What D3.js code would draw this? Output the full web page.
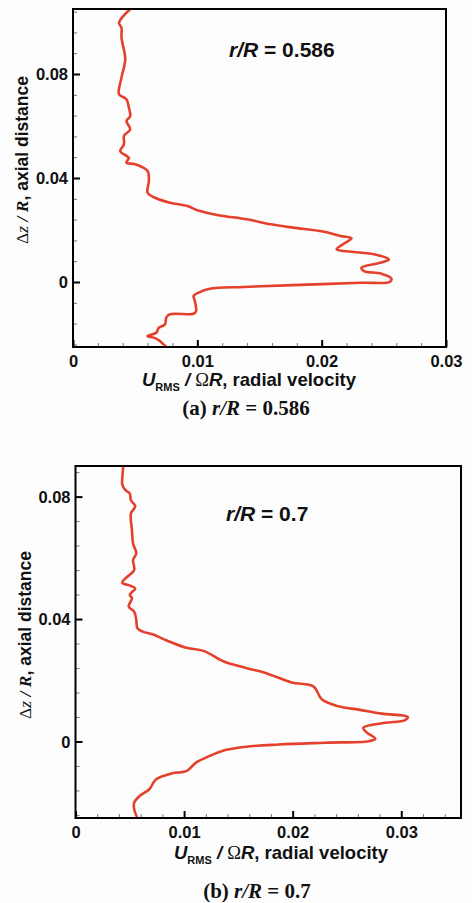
<!DOCTYPE html>
<html>
<head>
<meta charset="utf-8">
<script src="https://cdn.jsdelivr.net/npm/d3@7"></script>
<style>
  body { margin: 0; background: #fdfdfe; }
  svg { display: block; }
</style>
</head>
<body>
<div id="chart"></div>
<script>
// panel (a) r/R = 0.586 : radial velocity vs axial distance
const u_a = [0.0046, 0.0037, 0.0039, 0.0039, 0.0042, 0.0039, 0.0037, 0.0043, 0.0045, 0.0046,
             0.0043, 0.0046, 0.0041, 0.0041, 0.0038, 0.0043, 0.0045, 0.0043, 0.0050, 0.0060,
             0.0061, 0.0060, 0.0066, 0.0078, 0.0092, 0.0100, 0.0116, 0.0140, 0.0159, 0.0177,
             0.0201, 0.0215, 0.0224, 0.0219, 0.0212, 0.0218, 0.0242, 0.0254, 0.0247, 0.0232,
             0.0234, 0.0248, 0.0256, 0.0255, 0.0231, 0.0177, 0.0137, 0.0110, 0.0101, 0.0097,
             0.0098, 0.0099, 0.0097, 0.0078, 0.0075, 0.0074, 0.0069, 0.0067, 0.0060, 0.0065,
             0.0069, 0.0075];
const z_a = [0.1050, 0.0997, 0.0978, 0.0940, 0.0857, 0.0786, 0.0722, 0.0703, 0.0670, 0.0638,
             0.0619, 0.0587, 0.0562, 0.0530, 0.0504, 0.0485, 0.0478, 0.0459, 0.0453, 0.0427,
             0.0388, 0.0343, 0.0324, 0.0305, 0.0292, 0.0276, 0.0258, 0.0241, 0.0222, 0.0209,
             0.0194, 0.0177, 0.0168, 0.0151, 0.0126, 0.0119, 0.0107, 0.0087, 0.0074, 0.0055,
             0.0042, 0.0032, 0.0014, 0.0001, -0.0003, -0.0012, -0.0019, -0.0026, -0.0041, -0.0054,
             -0.0073, -0.0112, -0.0122, -0.0124, -0.0137, -0.0163, -0.0176, -0.0195, -0.0208, -0.0214,
             -0.0224, -0.0250];

// panel (b) r/R = 0.7
const u_b = [0.0044, 0.0043, 0.0043, 0.0046, 0.0050, 0.0051, 0.0055, 0.0051, 0.0052, 0.0053,
             0.0056, 0.0053, 0.0054, 0.0046, 0.0043, 0.0051, 0.0055, 0.0050, 0.0052, 0.0049,
             0.0054, 0.0056, 0.0057, 0.0062, 0.0071, 0.0084, 0.0101, 0.0118, 0.0136, 0.0157,
             0.0175, 0.0199, 0.0219, 0.0227, 0.0242, 0.0261, 0.0282, 0.0306, 0.0303, 0.0285,
             0.0265, 0.0268, 0.0276, 0.0270, 0.0230, 0.0187, 0.0157, 0.0138, 0.0123, 0.0111,
             0.0102, 0.0089, 0.0074, 0.0068, 0.0059, 0.0054, 0.0054, 0.0057];
const z_b = [0.0900, 0.0853, 0.0840, 0.0821, 0.0810, 0.0788, 0.0769, 0.0745, 0.0690, 0.0647,
             0.0615, 0.0593, 0.0560, 0.0533, 0.0519, 0.0508, 0.0500, 0.0479, 0.0468, 0.0441,
             0.0424, 0.0397, 0.0370, 0.0359, 0.0350, 0.0330, 0.0307, 0.0296, 0.0262, 0.0240,
             0.0224, 0.0193, 0.0180, 0.0137, 0.0115, 0.0104, 0.0091, 0.0080, 0.0069, 0.0061,
             0.0045, 0.0030, 0.0009, 0.0001, -0.0004, -0.0010, -0.0017, -0.0028, -0.0048, -0.0069,
             -0.0097, -0.0104, -0.0124, -0.0156, -0.0178, -0.0200, -0.0221, -0.0250];

// tick values
const xTicksMajor = [0, 0.01, 0.02, 0.03];
const yTicksMajor = [0, 0.04, 0.08];
const xTickLabels = ['0', '0.01', '0.02', '0.03'];
const yTickLabels = ['0', '0.04', '0.08'];

const captions = ['(a)', '(b)'];
const radii = ['0.586', '0.7'];

const W = 472, H = 903;
const sans = 'Liberation Sans, Arial, sans-serif';
const serif = 'Liberation Serif, Times New Roman, serif';

const svg = d3.select('#chart').append('svg')
    .attr('width', W)
    .attr('height', H);

svg.append('rect').attr('width', W).attr('height', H).attr('fill', '#fdfdfe');

function drawPanel(o) {
    const x = d3.scaleLinear().domain(o.xDomain).range([o.left, o.right]);
    const y = d3.scaleLinear().domain(o.yDomain).range([o.bottom, o.top]);
    const g = svg.append('g');

    // minor ticks every 0.002 on x, 0.008 on y
    const xMinor = d3.range(0, o.xDomain[1] + 1e-9, 0.002).filter(v => Math.abs(v * 100 - Math.round(v * 100)) > 1e-6);
    const yMinor = d3.range(-0.024, o.yDomain[1] + 1e-9, 0.008).filter(v => Math.abs(v * 25 - Math.round(v * 25)) > 1e-6);

    const minorX = g.append('g')
        .attr('transform', `translate(0,${o.bottom})`)
        .call(d3.axisBottom(x).tickValues(xMinor).tickSizeInner(-4).tickSizeOuter(0).tickFormat(''));
    const minorY = g.append('g')
        .attr('transform', `translate(${o.left},0)`)
        .call(d3.axisLeft(y).tickValues(yMinor).tickSizeInner(-4).tickSizeOuter(0).tickFormat(''));
    [minorX, minorY].forEach(a => {
        a.select('.domain').remove();
        a.selectAll('line').attr('stroke', '#6a7a88').attr('stroke-width', 1);
    });

    const xAxis = g.append('g')
        .attr('transform', `translate(0,${o.bottom})`)
        .call(d3.axisBottom(x).tickValues(xTicksMajor).tickSizeInner(-7).tickSizeOuter(0)
            .tickPadding(20).tickFormat((d, i) => xTickLabels[i]));
    const yAxis = g.append('g')
        .attr('transform', `translate(${o.left},0)`)
        .call(d3.axisLeft(y).tickValues(yTicksMajor).tickSizeInner(-7).tickSizeOuter(0)
            .tickPadding(5).tickFormat((d, i) => yTickLabels[i]));
    [xAxis, yAxis].forEach(a => {
        a.select('.domain').remove();
        a.selectAll('line').attr('stroke', '#000').attr('stroke-width', 2);
        a.selectAll('text')
            .attr('fill', '#111')
            .style('font-family', sans)
            .style('font-weight', 'bold')
            .style('font-size', '16.5px');
    });
    xAxis.selectAll('text').attr('dy', '0');
    yAxis.selectAll('text').attr('dy', '0.36em');

    // the profile
    const pts = o.u.map((d, i) => [d, o.z[i]]);
    g.append('path')
        .datum(pts)
        .attr('fill', 'none')
        .attr('stroke', '#e5402c')
        .attr('stroke-width', 2.6)
        .attr('stroke-linejoin', 'round')
        .attr('d', d3.line().x(d => x(d[0])).y(d => y(d[1])).curve(d3.curveCatmullRom.alpha(0.5)));

    // frame
    g.append('rect')
        .attr('x', o.left).attr('y', o.top)
        .attr('width', o.right - o.left).attr('height', o.bottom - o.top)
        .attr('fill', 'none').attr('stroke', '#000').attr('stroke-width', 2);

    // r/R label inside the box
    const ann = g.append('text')
        .attr('x', o.annX).attr('y', o.annY)
        .style('font-family', sans)
        .style('font-weight', 'bold')
        .style('font-size', '21px')
        .attr('fill', '#111');
    ann.append('tspan').style('font-style', 'italic').text('r/R');
    ann.append('tspan').text(' = ' + o.radius);

    // x title
    const xt = g.append('text')
        .attr('x', o.xTitleX).attr('y', o.xTitleY)
        .attr('text-anchor', 'middle')
        .style('font-family', sans)
        .style('font-weight', 'bold')
        .style('font-size', '18.5px')
        .attr('fill', '#111');
    xt.append('tspan').style('font-style', 'italic').text('U');
    xt.append('tspan').attr('dy', 5).style('font-size', '11px').text('RMS');
    xt.append('tspan').attr('dy', -5).style('font-style', 'italic').text(' / ');
    xt.append('tspan').style('font-family', serif).style('font-weight', 'normal').text('Ω');
    xt.append('tspan').style('font-style', 'italic').text('R');
    xt.append('tspan').text(', radial velocity');

    // y title
    const yt = g.append('text')
        .attr('transform', `translate(${o.yTitleX},${o.yTitleY}) rotate(-90)`)
        .attr('text-anchor', 'middle')
        .style('font-family', sans)
        .style('font-weight', 'bold')
        .style('font-size', '17.5px')
        .attr('fill', '#111');
    yt.append('tspan').style('font-family', serif).style('font-weight', 'normal').text('Δ');
    yt.append('tspan').style('font-family', serif).style('font-weight', 'normal').style('font-style', 'italic').text('z');
    yt.append('tspan').style('font-family', serif).style('font-style', 'italic').text(' / R');
    yt.append('tspan').text(', axial distance');

    // caption under the panel
    const cap = g.append('text')
        .attr('x', o.capX).attr('y', o.capY)
        .attr('text-anchor', 'middle')
        .style('font-family', serif)
        .style('font-weight', 'bold')
        .style('font-size', '21px')
        .attr('fill', '#111');
    cap.append('tspan').text(o.caption + ' ');
    cap.append('tspan').style('font-style', 'italic').text('r/R');
    cap.append('tspan').text(' = ' + o.radius);
}

drawPanel({
    u: u_a, z: z_a,
    xDomain: [0, 0.03], yDomain: [-0.025, 0.105],
    left: 73, right: 446, top: 9, bottom: 347,
    annX: 229, annY: 57, radius: radii[0],
    xTitleX: 249, xTitleY: 386,
    yTitleX: 28, yTitleY: 160,
    capX: 246, capY: 415, caption: captions[0]
});

drawPanel({
    u: u_b, z: z_b,
    xDomain: [0, 0.0355], yDomain: [-0.025, 0.09],
    left: 75.5, right: 461, top: 466, bottom: 818,
    annX: 226, annY: 521, radius: radii[1],
    xTitleX: 281, xTitleY: 859,
    yTitleX: 31, yTitleY: 635,
    capX: 257, capY: 898, caption: captions[1]
});
</script>
</body>
</html>
